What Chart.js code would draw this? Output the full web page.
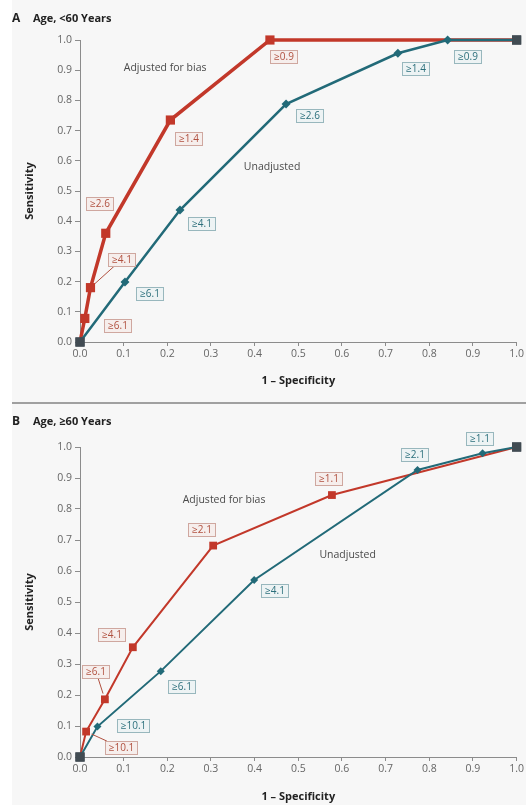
<!DOCTYPE html>
<html><head><meta charset="utf-8">
<script src="https://cdn.jsdelivr.net/npm/chart.js@4.4.1/dist/chart.umd.min.js"></script>
<style>
html,body{margin:0;padding:0;background:#fff;}
#wrap{position:relative;width:526px;height:805px;overflow:hidden;}
#bg{position:absolute;left:12px;top:0;width:514px;height:805px;background:#f7f7f7;}
#sep{position:absolute;left:12px;top:402px;width:514px;height:2px;background:#a0a0a0;}
canvas{position:absolute;left:0;width:526px;height:400px;}
#cA{top:0}
#cB{top:405px}
</style></head><body>
<div id="wrap"><div id="bg"></div><div id="sep"></div>
<canvas id="cA" width="526" height="400"></canvas>
<canvas id="cB" width="526" height="400"></canvas></div>
<script>
// ---- data ----
const tickLabels = ['0.0','0.1','0.2','0.3','0.4','0.5','0.6','0.7','0.8','0.9','1.0'];

const fprA_adj  = [0, 0.011, 0.024, 0.059, 0.207, 0.435, 1.0];
const sensA_adj = [0, 0.078, 0.180, 0.360, 0.735, 1.000, 1.0];
const cutA_adj  = [null, '≥6.1', '≥4.1', '≥2.6', '≥1.4', '≥0.9', null];

const fprA_un   = [0, 0.103, 0.229, 0.472, 0.728, 0.842, 1.0];
const sensA_un  = [0, 0.199, 0.437, 0.788, 0.956, 1.000, 1.0];
const cutA_un   = [null, '≥6.1', '≥4.1', '≥2.6', '≥1.4', '≥0.9', null];

const fprB_adj  = [0, 0.014, 0.057, 0.121, 0.305, 0.577, 1.0];
const sensB_adj = [0, 0.082, 0.186, 0.354, 0.682, 0.845, 1.0];
const cutB_adj  = [null, '≥10.1', '≥6.1', '≥4.1', '≥2.1', '≥1.1', null];

const fprB_un   = [0, 0.040, 0.185, 0.399, 0.773, 0.922, 1.0];
const sensB_un  = [0, 0.098, 0.277, 0.571, 0.926, 0.980, 1.0];
const cutB_un   = [null, '≥10.1', '≥6.1', '≥4.1', '≥2.1', '≥1.1', null];

const panelTitles = ['Age, <60 Years', 'Age, ≥60 Years'];
const panelLetters = ['A', 'B'];
const seriesNames = ['Adjusted for bias', 'Unadjusted'];

// ---- style ----
const RED = '#c2382a', TEAL = '#226a78', END = '#414b52', AXIS = '#8c8c8c';
const FONT = '"Open Sans", "Liberation Sans", sans-serif';

function pts(xs, ys){ return xs.map((x,i)=>({x:x, y:ys[i]})); }

const annot = {
  id: 'annot',
  afterDatasetsDraw(chart, args, o) {
    const ctx = chart.ctx;
    const xs = chart.scales.x, ys = chart.scales.y;
    ctx.save();
    o.series.forEach(s => {
      const meta = chart.getDatasetMeta(s.ds);
      s.labels.forEach((txt, i) => {
        if (!txt) return;
        const el = meta.data[i];
        const cx = el.x + s.offsets[i][0], cy = el.y + s.offsets[i][1];
        ctx.font = '10px ' + FONT;
        const w = Math.round(ctx.measureText(txt).width + 7), h = 13;
        const bx = Math.round(cx - w/2) + 0.5, by = Math.round(cy - h/2) + 0.5;
        if (s.leaders && s.leaders[i]) {
          const dx = cx - el.x, dy = cy - el.y, len = Math.hypot(dx, dy);
          const sc = Math.min((w/2)/Math.abs(dx || 1e-6), (h/2)/Math.abs(dy || 1e-6));
          ctx.beginPath();
          ctx.moveTo(el.x + dx/len*6, el.y + dy/len*6);
          ctx.lineTo(cx - dx*sc, cy - dy*sc);
          ctx.strokeStyle = s.lineColor; ctx.lineWidth = 1; ctx.stroke();
        }
        ctx.fillStyle = s.boxFill; ctx.fillRect(bx, by, w, h);
        ctx.strokeStyle = s.boxStroke; ctx.lineWidth = 1; ctx.strokeRect(bx, by, w, h);
        ctx.fillStyle = s.textColor; ctx.textAlign = 'center'; ctx.textBaseline = 'middle';
        ctx.fillText(txt, bx + w/2, by + h/2 + 0.5);
      });
    });
    ctx.font = '10.5px ' + FONT; ctx.fillStyle = '#4a4a4a';
    ctx.textAlign = 'center'; ctx.textBaseline = 'middle';
    o.notes.forEach(n => ctx.fillText(n.text, xs.getPixelForValue(n.x), ys.getPixelForValue(n.y)));
    ctx.textAlign = 'left'; ctx.fillStyle = '#222';
    ctx.font = 'bold 12px ' + FONT;
    ctx.fillText(o.letter, 12, o.titleY);
    ctx.font = 'bold 11px ' + FONT;
    ctx.fillText(o.title, 33, o.titleY);
    ctx.restore();
  }
};

function makeDataset(label, xs, ys, color, style, radius, width) {
  const last = xs.length - 1;
  return {
    label, data: pts(xs, ys), showLine: true, borderColor: color, borderWidth: width,
    pointStyle: c => (c.dataIndex === 0 || c.dataIndex === last) ? 'rect' : style,
    pointRadius: c => (c.dataIndex === 0 || c.dataIndex === last) ? 6.5 : radius,
    pointBackgroundColor: c => (c.dataIndex === 0 || c.dataIndex === last) ? END : color,
    pointBorderColor: c => (c.dataIndex === 0 || c.dataIndex === last) ? END : color,
    pointBorderWidth: 0, clip: false, tension: 0
  };
}

function makeChart(id, dsets, cfg) {
  return new Chart(document.getElementById(id), {
    type: 'scatter',
    data: { datasets: dsets },
    plugins: [annot],
    options: {
      responsive: false, animation: false, devicePixelRatio: 1,
      layout: { padding: { top: cfg.top, right: 9, left: 0, bottom: 0 } },
      plugins: { legend: { display: false }, tooltip: { enabled: false }, annot: cfg.annot },
      scales: {
        x: {
          type: 'linear', min: 0, max: 1,
          afterFit: s => { s.height = cfg.xHeight; },
          afterBuildTicks: s => { s.ticks = tickLabels.map((t,i)=>({value: i/10})); },
          ticks: { callback: (v,i) => tickLabels[i], color: '#666', font: { family: FONT, size: 10.5 }, padding: 2, maxRotation: 0, autoSkip: false },
          grid: { display: true, drawOnChartArea: false, drawTicks: true, tickLength: 4, color: AXIS },
          border: { display: true, color: AXIS, width: 1 },
          title: { display: true, text: '1 – Specificity', color: '#222', font: { family: FONT, size: 11, weight: 'bold' }, padding: { bottom: cfg.xTitlePad, top: 0 } }
        },
        y: {
          type: 'linear', min: 0, max: 1,
          afterFit: s => { s.width = 80; },
          afterBuildTicks: s => { s.ticks = tickLabels.map((t,i)=>({value: i/10})); },
          ticks: { callback: (v,i) => tickLabels[i], color: '#666', font: { family: FONT, size: 10.5 }, padding: 3, autoSkip: false },
          grid: { display: true, drawOnChartArea: false, drawTicks: true, tickLength: 5, color: AXIS },
          border: { display: true, color: AXIS, width: 1 },
          title: { display: true, text: 'Sensitivity', color: '#222', font: { family: FONT, size: 11, weight: 'bold' }, padding: { top: 23, bottom: 0 } }
        }
      }
    }
  });
}

const redBox = { boxFill: '#f6eeec', boxStroke: '#cfa79f', textColor: '#b0503f', lineColor: '#b0503f' };
const tealBox = { boxFill: '#edf3f4', boxStroke: '#98b7bd', textColor: '#2b6f7b', lineColor: '#2b6f7b' };

// Panel A
makeChart('cA', [
  makeDataset(seriesNames[1], fprA_un, sensA_un, TEAL, 'rectRot', 4.5, 2.5),
  makeDataset(seriesNames[0], fprA_adj, sensA_adj, RED, 'rect', 6.5, 3.5)
], {
  top: 40, xHeight: 58, xTitlePad: 13,
  annot: {
    letter: panelLetters[0], title: panelTitles[0], titleY: 19,
    notes: [ { text: seriesNames[0], x: 0.195, y: 0.907 }, { text: seriesNames[1], x: 0.44, y: 0.58 } ],
    series: [
      Object.assign({ ds: 1, labels: cutA_adj, offsets: [null,[33,7],[31,-28],[-6,-30],[18,18],[14,16],null], leaders: [0,0,1,0,0,0,0] }, redBox),
      Object.assign({ ds: 0, labels: cutA_un, offsets: [null,[25,12],[22,13],[23,11],[18,15],[20,16],null] }, tealBox)
    ]
  }
});

// Panel B
makeChart('cB', [
  makeDataset(seriesNames[1], fprB_un, sensB_un, TEAL, 'rectRot', 4, 2),
  makeDataset(seriesNames[0], fprB_adj, sensB_adj, RED, 'rect', 5.5, 2)
], {
  top: 42, xHeight: 48, xTitlePad: 1.5,
  annot: {
    letter: panelLetters[1], title: panelTitles[1], titleY: 17,
    notes: [ { text: seriesNames[0], x: 0.33, y: 0.83 }, { text: seriesNames[1], x: 0.613, y: 0.652 } ],
    series: [
      Object.assign({ ds: 1, labels: cutB_adj, offsets: [null,[35,16],[-9,-28],[-21,-13],[-12,-16],[-3,-17],null], leaders: [0,1,1,0,0,0,0] }, redBox),
      Object.assign({ ds: 0, labels: cutB_un, offsets: [null,[36,-1],[21,15],[20,11],[-3,-15],[-3,-15],null] }, tealBox)
    ]
  }
});
</script>
</body></html>
